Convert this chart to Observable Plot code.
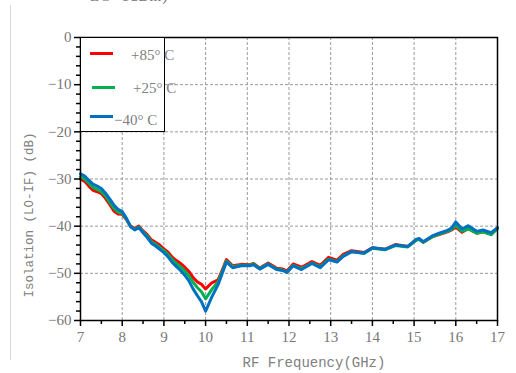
<!DOCTYPE html>
<html><head><meta charset="utf-8">
<script src="https://cdn.jsdelivr.net/npm/d3@7"></script>
<script src="https://cdn.jsdelivr.net/npm/@observablehq/plot@0.6"></script>
<style>
body{margin:0;background:#fff;}
#wrap{position:relative;width:516px;height:373px;overflow:hidden;}
#vline{position:absolute;left:10px;top:5px;width:1px;height:355px;background:#d8d8d8;}
#toptxt{position:absolute;left:90px;top:-12px;font:15px "Liberation Serif",serif;color:#777;white-space:nowrap;letter-spacing:1px;}
#legend{position:absolute;left:80px;top:37px;width:83px;height:93px;border:1px solid #000;background:#fff;}
.lg{position:absolute;height:3px;width:23px;}
.lt{position:absolute;font:15px "Liberation Serif",serif;color:#808080;white-space:nowrap;}
</style></head><body>
<div id="wrap"><div id="vline"></div><div id="toptxt">LO=1dBm)</div><div id="chart"></div>
<div id="legend">
<div class="lg" style="left:9px;top:14px;background:#ff0000"></div><div class="lt" style="left:50px;top:9px">+85° C</div>
<div class="lg" style="left:11px;top:48px;background:#00b050"></div><div class="lt" style="left:52px;top:42px">+25° C</div>
<div class="lg" style="left:9px;top:77px;background:#0070c0"></div><div class="lt" style="left:33px;top:74px">−40° C</div>
</div></div>
<script>
const freq = [7.0,7.1,7.2,7.3,7.4,7.5,7.6,7.7,7.8,7.9,8.0,8.1,8.2,8.3,8.4,8.5,8.6,8.7,8.8,8.9,9.0,9.1,9.2,9.3,9.4,9.5,9.6,9.7,9.8,9.9,10.0,10.15,10.3,10.4,10.5,10.65,10.85,11.05,11.15,11.3,11.5,11.7,11.85,11.95,12.1,12.3,12.55,12.75,12.95,13.15,13.3,13.5,13.8,14.0,14.3,14.55,14.85,15.05,15.12,15.22,15.45,15.6,15.8,15.9,16.0,16.15,16.3,16.5,16.65,16.85,17.0];
const blue = [-28.9,-29.4,-30.3,-31.1,-31.5,-32.0,-33.0,-34.2,-35.5,-36.4,-36.9,-38.3,-40.1,-40.8,-40.3,-41.4,-42.4,-43.6,-44.2,-44.9,-45.6,-46.5,-47.7,-48.6,-49.4,-50.4,-51.6,-53.3,-54.7,-56.0,-58.0,-55.0,-52.4,-50.0,-47.6,-48.8,-48.4,-48.4,-48.2,-49.1,-48.1,-49.2,-49.4,-49.8,-48.4,-49.2,-47.9,-48.8,-47.1,-47.6,-46.4,-45.4,-45.7,-44.6,-44.9,-44.0,-44.3,-42.8,-42.6,-43.3,-42.0,-41.5,-40.9,-40.4,-39.1,-40.6,-39.9,-41.1,-40.8,-41.4,-40.3];
const green = [-29.5,-30.0,-30.9,-31.8,-32.2,-32.7,-33.6,-34.9,-36.2,-37.0,-37.3,-38.5,-40.1,-40.7,-40.2,-41.2,-42.1,-43.3,-43.8,-44.5,-45.2,-46.0,-47.1,-47.9,-48.6,-49.5,-50.5,-51.9,-53.0,-53.9,-55.4,-53.4,-51.8,-49.6,-47.4,-48.6,-48.3,-48.3,-48.0,-49.0,-48.0,-49.1,-49.3,-49.7,-48.3,-49.0,-47.8,-48.6,-47.0,-47.5,-46.3,-45.4,-45.8,-44.7,-45.0,-44.1,-44.4,-43.0,-42.8,-43.4,-42.2,-41.7,-41.1,-40.7,-39.8,-41.1,-40.6,-41.5,-41.2,-41.8,-40.5];
const red = [-30.0,-30.5,-31.5,-32.4,-32.7,-33.1,-34.1,-35.4,-36.8,-37.4,-37.5,-38.6,-40.0,-40.5,-40.0,-41.0,-41.8,-42.9,-43.4,-44.0,-44.8,-45.5,-46.6,-47.3,-47.9,-48.7,-49.6,-50.9,-51.8,-52.3,-53.3,-52.0,-51.4,-49.3,-47.1,-48.4,-48.1,-48.2,-47.9,-48.9,-47.8,-48.9,-49.1,-49.5,-48.0,-48.7,-47.5,-48.3,-46.6,-47.2,-46.0,-45.2,-45.6,-44.6,-44.9,-43.9,-44.3,-42.9,-42.8,-43.4,-42.2,-41.8,-41.2,-40.8,-40.2,-41.3,-40.5,-41.5,-41.2,-41.7,-40.4];
const seriesNames = ["+85° C","+25° C","−40° C"];
const xTicks = [7,8,9,10,11,12,13,14,15,16,17];
const xMinor = [7.5,8.5,9.5,10.5,11.5,12.5,13.5,14.5,15.5,16.5];
const yTicks = [0,-10,-20,-30,-40,-50,-60];
const yMinor = [-2,-4,-6,-8,-12,-14,-16,-18,-22,-24,-26,-28,-32,-34,-36,-38,-42,-44,-46,-48,-52,-54,-56,-58];
const colors = ["#ff0000","#00b050","#0070c0"];
const series = [red, green, blue];
const rows = [];
series.forEach((s,i)=>s.forEach((v,j)=>rows.push({f:freq[j], v, name:seriesNames[i]})));
const chart = Plot.plot({
  width:516, height:373,
  marginLeft:80, marginRight:19, marginTop:37, marginBottom:53,
  style:{background:"#fff", fontFamily:"Liberation Serif, serif", fontSize:"14px", color:"#777", overflow:"visible"},
  x:{domain:[7,17]},
  y:{domain:[-60,0]},
  color:{domain:seriesNames, range:colors},
  marks:[
    Plot.gridX(xTicks.slice(1,-1), {stroke:"#999", strokeOpacity:1, strokeDasharray:"3,2"}),
    Plot.gridY(yTicks.slice(1,-1), {stroke:"#999", strokeOpacity:1, strokeDasharray:"3,2"}),
    Plot.line(rows, {x:"f", y:"v", z:"name", stroke:"name", strokeWidth:3, curve:"linear"}),
    Plot.frame({stroke:"#000", strokeWidth:1.5}),
    Plot.axisX({ticks:xTicks, tickSize:6, tickPadding:5, stroke:"#000", strokeWidth:1.5, label:null, fontSize:15, fill:"#777"}),
    Plot.axisX({ticks:xMinor, tickSize:4, tickFormat:()=>"", stroke:"#000", strokeWidth:1.5, label:null}),
    Plot.axisY({ticks:yTicks, tickSize:6, tickPadding:3, stroke:"#000", strokeWidth:1.5, label:null, fontSize:15, fill:"#777"}),
    Plot.axisY({ticks:yMinor, tickSize:4, tickFormat:()=>"", stroke:"#000", strokeWidth:1.5, label:null}),
    Plot.text(["RF Frequency(GHz)"], {frameAnchor:"bottom", textAnchor:"middle", dx:25, dy:46, fontSize:14, fontFamily:"Liberation Mono, monospace", fill:"#808080"}),
    Plot.text(["Isolation (LO-IF) (dB)"], {frameAnchor:"left", textAnchor:"middle", dx:-52, dy:36, rotate:-90, fontSize:12.5, fontFamily:"Liberation Mono, monospace", fill:"#808080"})
  ]
});
document.getElementById("chart").appendChild(chart);
</script></body></html>
